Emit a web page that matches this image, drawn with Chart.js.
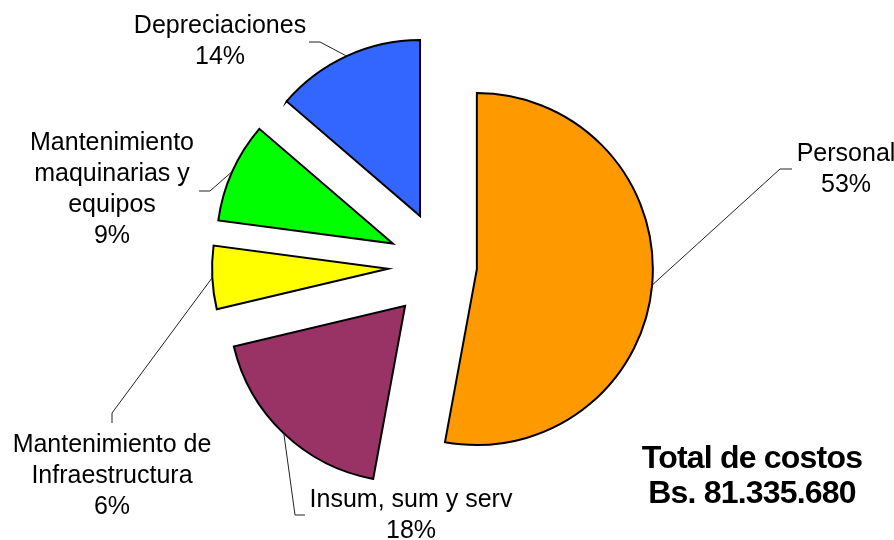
<!DOCTYPE html>
<html>
<head>
<meta charset="utf-8">
<script src="https://cdn.jsdelivr.net/npm/chart.js@4.4.0/dist/chart.umd.min.js"></script>
<style>
  html, body { margin: 0; padding: 0; background: #fff; }
  canvas { display: block; }
</style>
</head>
<body>
<canvas id="costChart" width="894" height="540"></canvas>
<script>
const categories = ['Personal', 'Insum, sum y serv', 'Mantenimiento de Infraestructura', 'Mantenimiento maquinarias y equipos', 'Depreciaciones'];
const shares = [52.9, 18.4, 5.8, 9.2, 13.7];
const totalLines = ['Total de costos', 'Bs. 81.335.680'];
const sliceColors = ['#FF9900', '#993366', '#FFFF00', '#00FF00', '#3366FF'];

// how far each slice is pulled out from the centre (px)
const explode = [34, 55, 55, 55, 55];

// label placement: centre x, first baseline, wrap width, leader line elbow + end
const labelLayout = [
    { x: 846, y: 161, wrap: 120, leader: [[780, 169], [792, 169]] },
    { x: 411, y: 507, wrap: 240, leader: [[295, 515], [305, 515]] },
    { x: 112, y: 452, wrap: 215, leader: [[112, 413], [112, 423]] },
    { x: 112, y: 150, wrap: 180, leader: [[210, 191], [199, 191]] },
    { x: 220, y: 33, wrap: 200, leader: [[320, 42], [309, 42]] }
];

const FONT = '"Liberation Sans", Arial, sans-serif';
const LINE_H = 31;

const wrapText = (ctx, text, maxWidth) => {
    const words = text.split(' ');
    const lines = [];
    let line = '';
    words.forEach(w => {
        const test = line ? line + ' ' + w : w;
        if (line && ctx.measureText(test).width > maxWidth) {
            lines.push(line);
            line = w;
        } else {
            line = test;
        }
    });
    if (line) lines.push(line);
    return lines;
};

const explodePlugin = {
    id: 'explode',
    beforeDatasetsDraw(chart) {
        const area = chart.chartArea;
        const cx = (area.left + area.right) / 2;
        const cy = (area.top + area.bottom) / 2;
        chart.getDatasetMeta(0).data.forEach((arc, i) => {
            const mid = (arc.startAngle + arc.endAngle) / 2;
            arc.x = cx + Math.cos(mid) * explode[i];
            arc.y = cy + Math.sin(mid) * explode[i];
        });
    }
};

const labelPlugin = {
    id: 'sliceLabels',
    afterDatasetsDraw(chart) {
        const ctx = chart.ctx;
        const total = shares.reduce((a, b) => a + b, 0);
        ctx.save();
        ctx.font = '25px ' + FONT;
        ctx.textAlign = 'center';
        ctx.textBaseline = 'alphabetic';
        chart.getDatasetMeta(0).data.forEach((arc, i) => {
            const lay = labelLayout[i];
            const mid = (arc.startAngle + arc.endAngle) / 2;
            const px = arc.x + Math.cos(mid) * arc.outerRadius;
            const py = arc.y + Math.sin(mid) * arc.outerRadius;

            ctx.strokeStyle = '#222';
            ctx.lineWidth = 1;
            ctx.beginPath();
            ctx.moveTo(px, py);
            lay.leader.forEach(p => ctx.lineTo(p[0], p[1]));
            ctx.stroke();

            const lines = wrapText(ctx, categories[i], lay.wrap);
            lines.push(Math.round(shares[i] / total * 100) + '%');
            ctx.fillStyle = '#000';
            lines.forEach((l, k) => ctx.fillText(l, lay.x, lay.y + k * LINE_H));
        });

        ctx.font = 'bold 32px ' + FONT;
        ctx.letterSpacing = '-0.8px';
        totalLines.forEach((l, k) => ctx.fillText(l, 752, 468 + k * 35));
        ctx.restore();
    }
};

new Chart(document.getElementById('costChart'), {
    type: 'pie',
    data: {
        labels: categories,
        datasets: [{
            data: shares,
            backgroundColor: sliceColors,
            borderColor: '#000',
            borderWidth: 2,
            borderJoinStyle: 'miter',
            radius: 176
        }]
    },
    options: {
        responsive: false,
        animation: false,
        events: [],
        layout: { padding: { left: 0, right: 8, top: 0, bottom: 8 } },
        plugins: {
            legend: { display: false },
            tooltip: { enabled: false }
        }
    },
    plugins: [explodePlugin, labelPlugin]
});
</script>
</body>
</html>
